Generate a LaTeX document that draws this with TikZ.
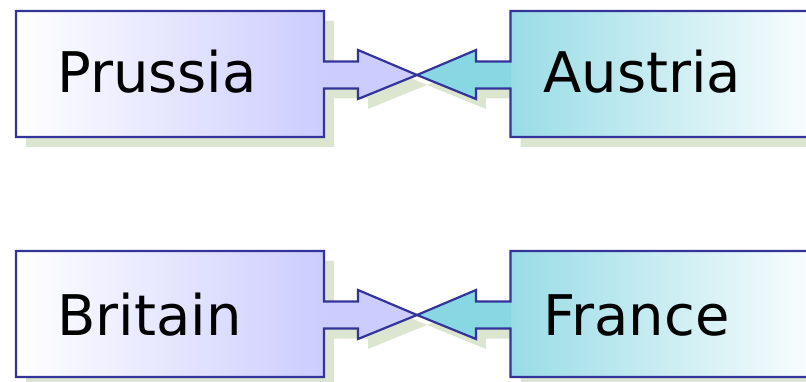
\documentclass[tikz,border=0pt]{standalone}
\usepackage{fontspec}
\setmainfont{DejaVu Sans}
\definecolor{lav}{HTML}{CCCCFF}
\definecolor{cyn}{HTML}{88D8E3}
\definecolor{cynbox}{HTML}{99DCE6}
\definecolor{edge}{HTML}{333399}
\definecolor{shad}{HTML}{DCE5D0}
\tikzset{
  outline/.style={draw=edge, line width=2.2pt, line join=miter},
  shadowfill/.style={fill=shad},
  label/.style={anchor=base west, inner sep=0pt, font=\fontsize{56}{60}\selectfont},
}
\newcommand{\leftshape}[1]{(16,#1+11) -- (324,#1+11) -- (324,#1+61.5) -- (358,#1+61.5) -- (358,#1+50) -- (417,#1+75) -- (358,#1+99) -- (358,#1+88.5) -- (324,#1+88.5) -- (324,#1+137) -- (16,#1+137) -- cycle}
\newcommand{\rightshape}[1]{(830,#1+11) -- (510.5,#1+11) -- (510.5,#1+61.5) -- (476,#1+61.5) -- (476,#1+50) -- (417,#1+75) -- (476,#1+99) -- (476,#1+88.5) -- (510.5,#1+88.5) -- (510.5,#1+137) -- (830,#1+137)}
\newcommand{\pair}[1]{%
  \begin{scope}[shift={(10,10)}]
    \fill[shadowfill] \leftshape{#1};
    \fill[shadowfill] \rightshape{#1} -- cycle;
  \end{scope}
  \shade[left color=white, right color=lav] (16,#1+11) rectangle (324,#1+137);
  \fill[lav] (323,#1+61.5) -- (358,#1+61.5) -- (358,#1+50) -- (417,#1+75) -- (358,#1+99) -- (358,#1+88.5) -- (323,#1+88.5) -- cycle;
  \shade[left color=cynbox, right color=white] (510.5,#1+11) rectangle (830,#1+137);
  \fill[cyn] (511,#1+61.5) -- (476,#1+61.5) -- (476,#1+50) -- (417,#1+75) -- (476,#1+99) -- (476,#1+88.5) -- (511,#1+88.5) -- cycle;
  \draw[outline] \leftshape{#1};
  \draw[outline] \rightshape{#1};
}
\begin{document}
\begin{tikzpicture}[x=1pt, y=-1pt]
  \useasboundingbox (0,0) rectangle (806,382);
  \clip (0,0) rectangle (806,382);
  \pair{0}
  \pair{240}
  \node[label] (prussia) at (57,93) {Prussia};
  \node[label] (austria) at (543,93) {Austria};
  \node[label] (britain) at (57,335) {Britain};
  \node[label] (france) at (543,335) {France};
\end{tikzpicture}
\end{document}
